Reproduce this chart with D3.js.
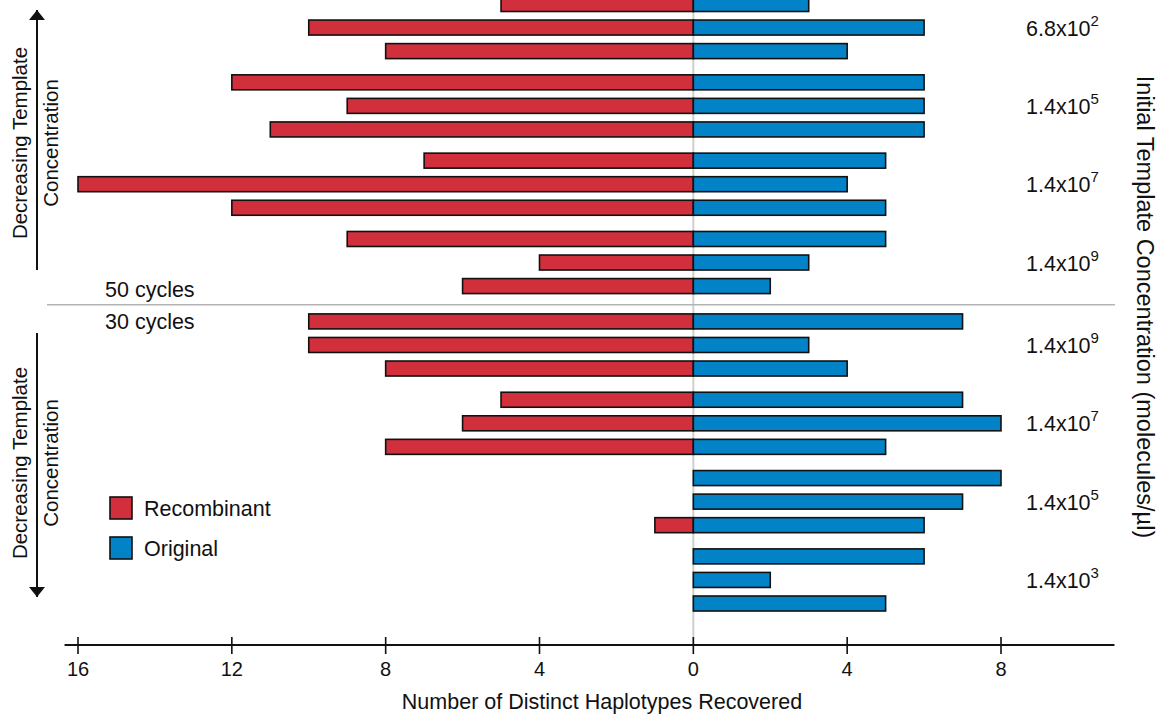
<!DOCTYPE html>
<html>
<head>
<meta charset="utf-8">
<script src="https://cdn.jsdelivr.net/npm/d3@7/dist/d3.min.js"></script>
<style>
  html, body { margin: 0; padding: 0; background: #fff; }
  svg { display: block; font-family: "Liberation Sans", Arial, Helvetica, sans-serif; }
</style>
</head>
<body>
<svg id="chart" width="1163" height="715"></svg>
<script>
// Haplotype counts per PCR replicate, top to bottom.
const sections = ["50 cycles", "30 cycles"];
const concentrations50 = [["6.8", "2"], ["1.4", "5"], ["1.4", "7"], ["1.4", "9"]];
const concentrations30 = [["1.4", "9"], ["1.4", "7"], ["1.4", "5"], ["1.4", "3"]];
const recombinant = [5, 10, 8, 12, 9, 11, 7, 16, 12, 9, 4, 6, 10, 10, 8, 5, 6, 8, 0, 0, 1, 0, 0, 0];
const original    = [3, 6, 4, 6, 6, 6, 5, 4, 5, 5, 3, 2, 7, 3, 4, 7, 8, 5, 8, 7, 6, 6, 2, 5];
const xTicks = [-16, -12, -8, -4, 0, 4, 8];
const legendItems = ["Recombinant", "Original"];

const RED = "#d12f3c", BLUE = "#0383c7";
const INK = "#111";
const svg = d3.select("#chart");

// Each row sits in a group of three replicates; groups and sections get extra spacing.
const perGroup = 3, groupsPerSection = 4;
const rows = recombinant.map((r, i) => {
  const g = Math.floor(i / perGroup);
  const s = Math.floor(g / groupsPerSection);
  return { i, g, s, rec: r, orig: original[i], slot: i + g * 0.325 + s * 0.175 };
});
const lastSlot = d3.max(rows, d => d.slot);

const x = d3.scaleLinear().domain([-16, 8]).range([78, 1001]);
const y = d3.scaleLinear().domain([0, lastSlot]).range([4, 603.5]);
const barH = 15;
const axisY = 645;

// Zero reference line
svg.append("line")
  .attr("x1", x(0)).attr("x2", x(0))
  .attr("y1", 0).attr("y2", axisY)
  .attr("stroke", "#cfcfcf").attr("stroke-width", 2);

// Section divider between 50 and 30 cycles
const divY = (y(rows[11].slot) + y(rows[12].slot)) / 2 + 1;
svg.append("line")
  .attr("x1", 47).attr("x2", 1115)
  .attr("y1", divY).attr("y2", divY)
  .attr("stroke", "#b4b4b4").attr("stroke-width", 1.5);

// Bars
const barG = svg.append("g").attr("stroke", INK).attr("stroke-width", 1.6);
barG.selectAll("rect.rec").data(rows.filter(d => d.rec > 0)).join("rect")
  .attr("class", "rec")
  .attr("x", d => x(-d.rec)).attr("width", d => x(0) - x(-d.rec))
  .attr("y", d => y(d.slot) - barH / 2).attr("height", barH)
  .attr("fill", RED);
barG.selectAll("rect.orig").data(rows.filter(d => d.orig > 0)).join("rect")
  .attr("class", "orig")
  .attr("x", x(0)).attr("width", d => x(d.orig) - x(0))
  .attr("y", d => y(d.slot) - barH / 2).attr("height", barH)
  .attr("fill", BLUE);

// Concentration labels, centred on each group's middle replicate
const concLabels = concentrations50.concat(concentrations30);
concLabels.forEach((c, g) => {
  const mid = rows[g * perGroup + 1];
  const t = svg.append("text")
    .attr("x", 1026).attr("y", y(mid.slot) + 8)
    .attr("font-size", 21.5).attr("fill", INK);
  t.append("tspan").text(c[0] + "x10");
  t.append("tspan").attr("dy", -10).attr("font-size", 15).text(c[1]);
});

// Section labels
svg.append("text").attr("x", 105).attr("y", divY - 8)
  .attr("font-size", 21.5).attr("fill", INK).text(sections[0]);
svg.append("text").attr("x", 105).attr("y", divY + 24)
  .attr("font-size", 21.5).attr("fill", INK).text(sections[1]);

// X axis
svg.append("line")
  .attr("x1", x(-16.35)).attr("x2", x(10.95))
  .attr("y1", axisY).attr("y2", axisY)
  .attr("stroke", INK).attr("stroke-width", 1.8);
const ax = svg.append("g").attr("transform", `translate(0,${axisY})`);
ax.selectAll("line.tick").data(xTicks).join("line")
  .attr("x1", d => x(d)).attr("x2", d => x(d))
  .attr("y1", -8).attr("y2", 9)
  .attr("stroke", INK).attr("stroke-width", 1.6);
ax.selectAll("text").data(xTicks).join("text")
  .attr("x", d => x(d)).attr("y", 31)
  .attr("text-anchor", "middle").attr("font-size", 20).attr("fill", INK)
  .text(d => Math.abs(d));
svg.append("text").attr("x", 602).attr("y", 709)
  .attr("text-anchor", "middle").attr("font-size", 21.5).attr("fill", INK)
  .text("Number of Distinct Haplotypes Recovered");

// Right-hand axis title
svg.append("text")
  .attr("transform", "translate(1137,307) rotate(90)")
  .attr("text-anchor", "middle").attr("font-size", 23.5).attr("fill", INK)
  .text("Initial Template Concentration (molecules/\u00b5l)");

// Direction arrows with labels
svg.append("defs").append("marker")
  .attr("id", "arrow").attr("viewBox", "0 0 10 16")
  .attr("refX", 10).attr("refY", 8)
  .attr("markerWidth", 10).attr("markerHeight", 16)
  .attr("markerUnits", "userSpaceOnUse")
  .attr("orient", "auto")
  .append("path").attr("d", "M0,0 L10,8 L0,16 Z").attr("fill", INK);

const arrows = [
  { from: 270, to: 10, mid: 143 },
  { from: 333, to: 597, mid: 463 }
];
arrows.forEach(a => {
  svg.append("line")
    .attr("x1", 37).attr("x2", 37)
    .attr("y1", a.from).attr("y2", a.to)
    .attr("stroke", INK).attr("stroke-width", 2)
    .attr("marker-end", "url(#arrow)");
  const t = svg.append("text")
    .attr("transform", `translate(0,${a.mid}) rotate(-90)`)
    .attr("text-anchor", "middle").attr("font-size", 20.5).attr("fill", INK);
  t.append("tspan").attr("x", 0).attr("y", 27).text("Decreasing Template");
  t.append("tspan").attr("x", 0).attr("y", 58).text("Concentration");
});

// Legend
const lg = svg.append("g").attr("transform", "translate(110,497)");
legendItems.forEach((name, i) => {
  lg.append("rect").attr("x", 0).attr("y", i * 40).attr("width", 22).attr("height", 22)
    .attr("fill", i === 0 ? RED : BLUE).attr("stroke", INK).attr("stroke-width", 1.6);
  lg.append("text").attr("x", 34).attr("y", i * 40 + 19)
    .attr("font-size", 21.5).attr("fill", INK).text(name);
});
</script>
</body>
</html>
